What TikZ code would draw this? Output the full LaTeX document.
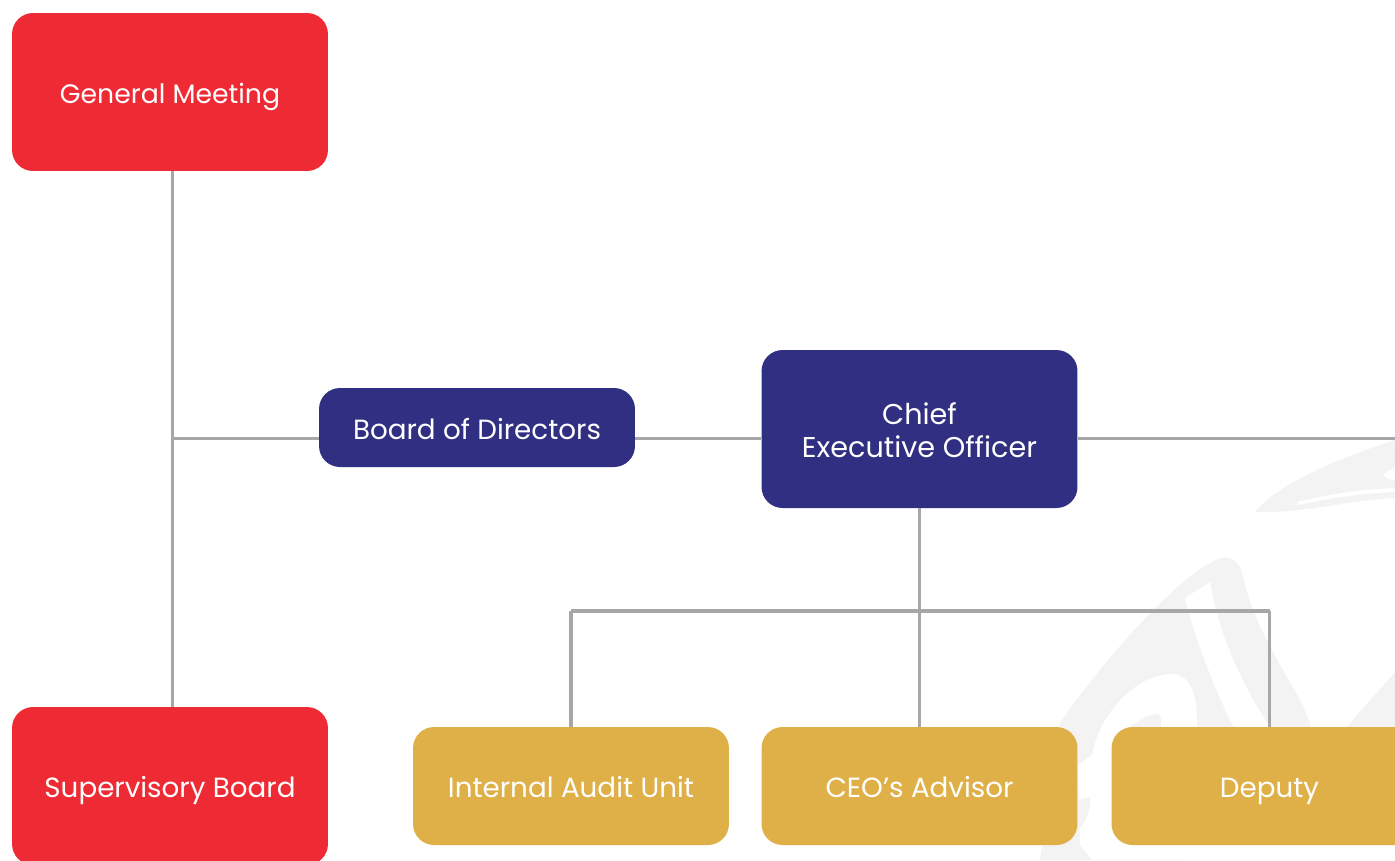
\documentclass[tikz,border=0pt]{standalone}
\usepackage{fontspec}
\setmainfont{Poppins}
\usetikzlibrary{shapes,calc,positioning}
\definecolor{boardred}{HTML}{EE2A34}
\definecolor{officeblue}{HTML}{312F82}
\definecolor{unitgold}{HTML}{E0B048}
\definecolor{linegray}{HTML}{A7A7A9}
\definecolor{markgray}{HTML}{F3F3F4}
\tikzset{
	orgbox/.style={shape=rectangle,rounded corners=0.42cm,minimum width=6.32cm,text=white,font=\fontsize{15.8}{18.7}\selectfont,align=center,inner sep=0pt,text height=14pt,text depth=0.7pt},
	redbox/.style={orgbox,fill=boardred,minimum height=3.16cm},
	bluebox/.style={orgbox,fill=officeblue,minimum height=3.16cm,font=\fontsize{16.3}{18.7}\selectfont,text height=33pt},
	smallbox/.style={orgbox,fill=officeblue,minimum height=1.58cm},
	goldbox/.style={orgbox,fill=unitgold,minimum height=2.36cm},
	orgline/.style={-,draw=linegray,line width=1.8pt}
}
\begin{document}
\begin{tikzpicture}[x=0.02cm,y=-0.02cm]
	\useasboundingbox (0,0) rectangle (1395,860);
	\clip (0,0) rectangle (1395,860);
	% faint mark behind the chart
	\fill[markgray] (1255,512) .. controls (1280,482) and (1340,458) .. (1395,440) -- (1395,498) .. controls (1350,500) and (1300,514) .. (1255,512) -- cycle;
	\fill[white] (1297,502) .. controls (1320,496) and (1360,489) .. (1395,488) -- (1395,492) .. controls (1360,493) and (1325,499) .. (1298,505) -- cycle;
	\fill[white] (1383,475) .. controls (1385,472) and (1390,470) .. (1395,468) -- (1395,480) .. controls (1390,480) and (1385,478) .. (1383,475) -- cycle;
	\fill[markgray] (1222,558) .. controls (1190,565) and (1110,650) .. (1060,723) -- (1040,860) -- (1190,860) -- (1190,735) -- (1312,735) .. controls (1310,700) and (1260,650) .. (1243,577) .. controls (1240,562) and (1232,556) .. (1222,558) -- cycle;
	\fill[white] (1185,598) -- (1210,582) .. controls (1220,640) and (1245,690) .. (1272,730) -- (1235,730) .. controls (1215,690) and (1195,640) .. (1185,598) -- cycle;
	\fill[white] (1092,755) .. controls (1100,710) and (1140,672) .. (1175,674) .. controls (1195,678) and (1198,705) .. (1197,735) -- (1200,860) -- (1092,860) -- (1080,845) -- (1078,765) -- cycle;
	\fill[markgray] (1130,727) .. controls (1140,720) and (1150,714) .. (1157,714) .. controls (1162,716) and (1162,722) .. (1160,730) -- (1130,730) -- cycle;
	\fill[markgray] (1090,797) .. controls (1091,810) and (1086,822) .. (1078,830) -- (1078,800) -- cycle;
	\fill[markgray] (1345,730) .. controls (1360,710) and (1380,690) .. (1395,672) -- (1395,730) -- cycle;
	% boxes
	\node[redbox,font=\fontsize{15.2}{18.7}\selectfont] (gm) at (170,92) {General Meeting};
	\node[redbox] (sb) at (170,786) {Supervisory Board};
	\node[smallbox] (bod) at (477,427.5) {Board of Directors};
	\node[bluebox] (ceo) at (919.5,429) {Chief\\Executive Officer};
	\node[goldbox] (audit) at (571,786) {Internal Audit Unit};
	\node[goldbox] (adv) at (919.5,786) {CEO’s Advisor};
	\node[goldbox] (dep) at (1269.5,786) {Deputy};
	% junctions
	\coordinate (hub) at (172.5,438.5);
	\coordinate (rightEnd) at (1395,438.5);
	\coordinate (bar) at (919.5,611);
	\coordinate (barL) at (audit.north |- bar);
	\coordinate (barR) at (dep.north |- bar);
	\path
	\foreach \startNode/\endNode in {gm.south -| hub/sb.north -| hub,hub/bod.west |- hub,bod.east |- hub/ceo.west |- hub,ceo.east |- hub/rightEnd,ceo.south/adv.north,barL/barR,barL/audit.north,barR/dep.north}
	{
		(\startNode) edge[orgline] (\endNode)
	};
\end{tikzpicture}
\end{document}
